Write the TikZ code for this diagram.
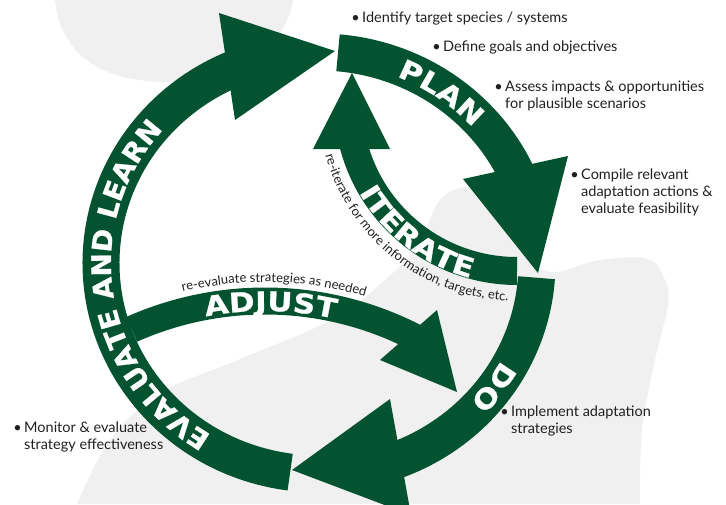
\documentclass[tikz,border=0pt]{standalone}
\usepackage{fontspec}
\setmainfont{Lato}
\newfontfamily\lblfont{DejaVu Sans}[FakeStretch=1.15, FakeBold=0.8]
\newfontfamily\lblnarrow{DejaVu Sans}[FakeStretch=1.04, FakeBold=0.8]
\usepackage{xcolor}
\usepackage{tikz}
\usetikzlibrary{calc, decorations.text}
\definecolor{leaf}{RGB}{3,83,48}
\definecolor{haze}{RGB}{240,240,240}
\definecolor{ink}{RGB}{35,31,32}
\tikzstyle{band} = [draw=leaf, line cap=butt]
\tikzstyle{head} = [fill=leaf]
\tikzstyle{note} = [anchor=north west, align=left, inner sep=0pt, text=ink, font=\fontsize{14.5}{17}\selectfont]
\newcommand{\bul}{\llap{\textbullet\hspace{2.5pt}}}
\newcommand{\lbl}{\lblfont\bfseries\fontsize{27}{27}\selectfont}
\newcommand{\lbln}{\lblnarrow\bfseries\fontsize{27}{27}\selectfont}
\newcommand{\sml}{\fontsize{13}{13}\selectfont}

\begin{document}
\begin{tikzpicture}[x=1pt, y=-1pt]
\useasboundingbox (0,0) rectangle (726,504);
% backdrop
\fill[haze] (55,0) .. controls (62,62) and (110,82) .. (170,82) .. controls (235,82) and (286,48) .. (293,0) -- cycle;
\fill[haze] plot[smooth, tension=0.6] coordinates {(77,504) (110,440) (160,393) (233,362) (333,319) (385,280) (418,245) (440,200) (465,187) (492,190) (508,215) (520,250) (550,272) (600,260) (648,259) (665,280) (668,305) (655,360) (642,430) (640,504)} -- cycle;

\coordinate (C) at (319,263);
\coordinate (Ci) at (517,102);
\coordinate (Ca) at (265,629);

% cycle
\draw[band, line width=37pt] ($(C)+(-85:218 and 211)$) arc[start angle=-85, end angle=-22, x radius=218, y radius=211];
\draw[band, line width=37pt] ($(C)+(4:218 and 211)$) arc[start angle=4, end angle=70, x radius=218, y radius=211];
\draw[band, line width=37pt] ($(C)+(97.6:218 and 211)$) arc[start angle=97.6, end angle=248, x radius=218, y radius=211];
\fill[head] (463,179) -- (568,156) -- (538,273) -- cycle;
\fill[head] (390,399) -- (411,515) -- (292,470) -- cycle;
\fill[head] (219,13) -- (235,120) -- (335,51) -- cycle;

% iterate + adjust
\draw[band, line width=28pt] ($(Ci)+(90:169)$) arc[start angle=90, end angle=167, radius=169];
\fill[head] (313,149) -- (390,149) -- (352,73) -- cycle;
\draw[band, line width=27pt] ($(Ca)+(-114:328)$) arc[start angle=-114, end angle=-62, radius=328];
\fill[head] (380,360) -- (437,310) -- (457,392) -- cycle;

% labels on the arrows
\path[decorate, decoration={text along path, text={|\lbl|PLAN}, text align=center, text color=white}]
  ($(C)+(-85:208 and 201)$) arc[start angle=-85, end angle=-25, x radius=208, y radius=201];
\path[decorate, decoration={text along path, text={|\lbl|DO}, text align=center, text color=white}]
  ($(C)+(4:208 and 201)$) arc[start angle=4, end angle=68, x radius=208, y radius=201];
\path[decorate, decoration={text along path, text={|\lbln|EVALUATE AND LEARN}, text align=center, text color=white}]
  ($(C)+(95:208 and 201)$) arc[start angle=95, end angle=248, x radius=208, y radius=201];
\path[decorate, decoration={text along path, text={|\lbl|ITERATE}, text align=center, text color=white}]
  ($(Ci)+(165:182)$) arc[start angle=165, end angle=90, radius=182];
\path[decorate, decoration={text along path, text={|\sml|re-iterate for more information, targets, etc.}, text align=center, text color=ink}]
  ($(Ci)+(175:199)$) arc[start angle=175, end angle=82, radius=199];
\path[decorate, decoration={text along path, text={|\lbl|ADJUST}, text align=center, text color=white}]
  ($(Ca)+(-110:318)$) arc[start angle=-110, end angle=-68, radius=318];
\path[decorate, decoration={text along path, text={|\sml|re-evaluate strategies as needed}, text align=center, text color=ink}]
  ($(Ca)+(-118:347)$) arc[start angle=-118, end angle=-59, radius=347];

% notes
\node[note] (identify) at (362,12) {\bul Identify target species / systems};
\node[note] (define) at (443,41) {\bul Define goals and objectives};
\node[note] (assess) at (505,81) {\bul Assess impacts \& opportunities\\for plausible scenarios};
\node[note] (compile) at (581,169) {\bul Compile relevant\\adaptation actions \&\\evaluate feasibility};
\node[note] (implement) at (511,406) {\bul Implement adaptation\\strategies};
\node[note] (monitor) at (24,422) {\bul Monitor \& evaluate\\strategy effectiveness};
\end{tikzpicture}
\end{document}
